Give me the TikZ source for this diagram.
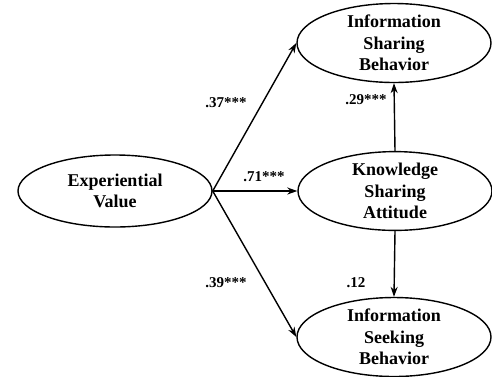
\documentclass[tikz,border=0pt]{standalone}
\usepackage{fontspec}
\setmainfont{Liberation Serif}
\usetikzlibrary{shapes.geometric,arrows.meta}
\begin{document}
\begin{tikzpicture}[x=1pt,y=-1pt,
  latent/.style={ellipse,draw,line width=1.4pt,minimum width=194pt,minimum height=72pt,
    inner sep=0pt,align=center,font=\fontsize{18}{21.5}\selectfont\bfseries},
  effect/.style={line width=1.4pt,-{Stealth[length=10pt,width=7pt]}},
  coef/.style={font=\fontsize{15}{17}\selectfont\bfseries}]
\useasboundingbox (0,0) rectangle (492,376);
\node [latent] (ev) at (115,191) {Experiential\\Value};
\node [latent] (isb) at (394,43) {Information\\Sharing\\Behavior};
\node [latent] (ksa) at (395,191) {Knowledge\\Sharing\\Attitude};
\node [latent] (iskb) at (394,337) {Information\\Seeking\\Behavior};
% paths
\draw [effect] (ev.east) -- (isb.west);
\draw [effect] (ev.east) -- (ksa.west);
\draw [effect] (ev.east) -- (iskb.west);
\draw [effect] (ksa.north) -- (isb.south);
\draw [effect] (ksa.south) -- (iskb.north);
% coefficients
\node [coef] (c1) at (226,103) {.37***};
\node [coef] (c2) at (264,177) {.71***};
\node [coef] (c3) at (226,283) {.39***};
\node [coef] (c4) at (366,100) {.29***};
\node [coef] (c5) at (356,283) {.12};
\end{tikzpicture}
\end{document}
